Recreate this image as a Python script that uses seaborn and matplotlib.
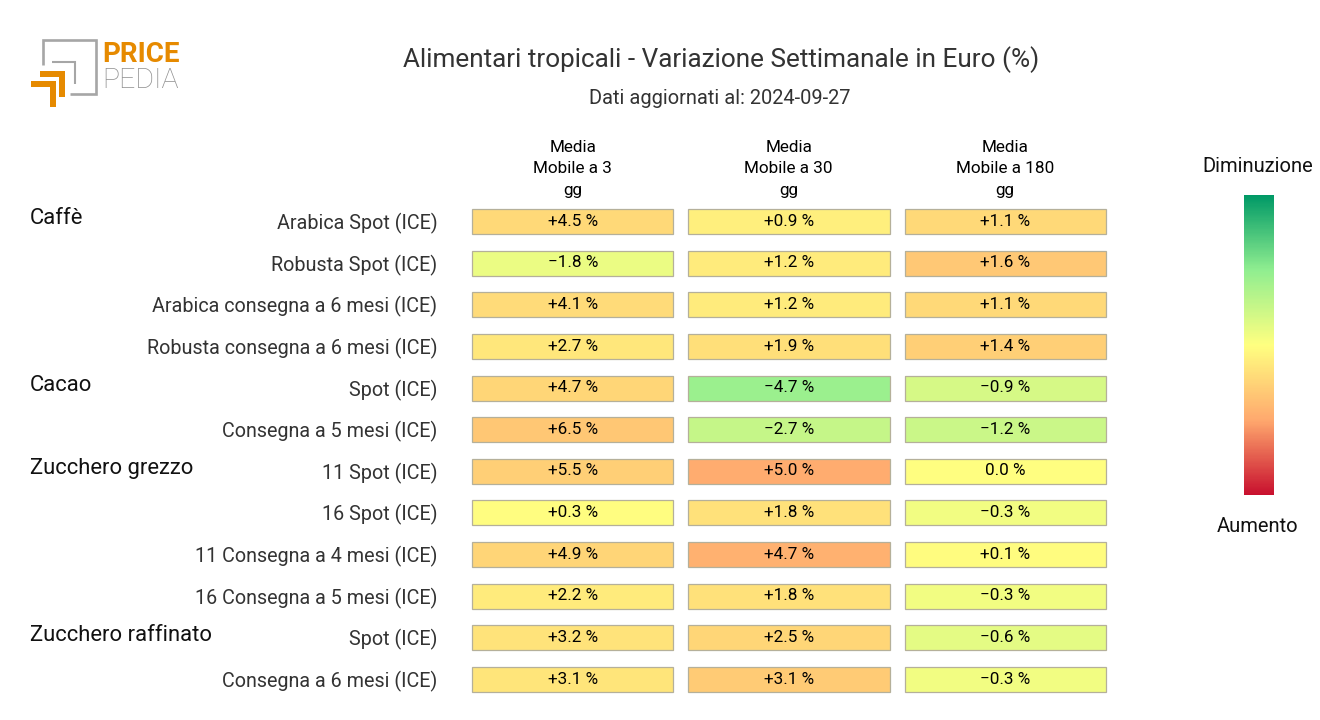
"""
Alimentari tropicali - heatmap variazione settimanale
"""

import matplotlib
matplotlib.use("Agg")
import matplotlib.pyplot as plt
from matplotlib.colors import LinearSegmentedColormap, Normalize
from matplotlib.cm import ScalarMappable
from matplotlib.patches import Rectangle, Polygon
import numpy as np
import pandas as pd
import seaborn as sns

TITLE = "Alimentari tropicali - Variazione Settimanale in Euro (%)"
SUBTITLE = "Dati aggiornati al: 2024-09-27"

row_labels = [
    "Arabica Spot (ICE)", "Robusta Spot (ICE)",
    "Arabica consegna a 6 mesi (ICE)", "Robusta consegna a 6 mesi (ICE)",
    "Spot (ICE)", "Consegna a 5 mesi (ICE)",
    "11 Spot (ICE)", "16 Spot (ICE)",
    "11 Consegna a 4 mesi (ICE)", "16 Consegna a 5 mesi (ICE)",
    "Spot (ICE)", "Consegna a 6 mesi (ICE)",
]
group_labels = ["Caffè", "Cacao", "Zucchero grezzo", "Zucchero raffinato"]
group_rows = [0, 4, 6, 10]
col_labels = ["Media\nMobile a 3\ngg", "Media\nMobile a 30\ngg", "Media\nMobile a 180\ngg"]

media_3 = [4.5, -1.8, 4.1, 2.7, 4.7, 6.5, 5.5, 0.3, 4.9, 2.2, 3.2, 3.1]
media_30 = [0.9, 1.2, 1.2, 1.9, -4.7, -2.7, 5.0, 1.8, 4.7, 1.8, 2.5, 3.1]
media_180 = [1.1, 1.6, 1.1, 1.4, -0.9, -1.2, 0.0, -0.3, 0.1, -0.3, -0.6, -0.3]
col_values = [media_3, media_30, media_180]
col_limits = [20, 10.4, 5]

cmap = LinearSegmentedColormap.from_list(
    "variazione",
    ["#009966", "#90EE90", "#FFFF80", "#FFA96E", "#C8102E"],
)

W, H = 1320, 720
COL_LEFT = [472, 688, 904.5]
COL_W = 201.5
ROW_TOP = 209
ROW_H = 25
ROW_PITCH = 41.64
GAP = ROW_PITCH - ROW_H

sns.set_theme(style="white")
plt.rcParams["font.family"] = ["Roboto", "DejaVu Sans"]


def fx(px):
    return px / W


def fy(px):
    return 1 - px / H


def fmt_value(v):
    if v == 0:
        return "0.0 %"
    return f"{v:+.1f} %".replace("-", "\u2212")


def draw_logo(fig):
    ax = fig.add_axes([0, 0, 1, 1], zorder=5)
    ax.set_xlim(0, W)
    ax.set_ylim(H, 0)
    ax.axis("off")
    grey = "#a6a6a6"
    orange = "#e68a00"
    ax.plot([43, 43, 96, 96, 70], [65, 40, 40, 94, 94], color=grey, lw=1.9, solid_capstyle="butt", solid_joinstyle="miter")
    ax.plot([52, 75, 75], [62, 62, 84], color=grey, lw=1.5, solid_capstyle="butt", solid_joinstyle="miter")
    ax.add_patch(Polygon([[40, 71], [65, 71], [65, 97], [59, 97], [59, 77], [40, 77]], color=orange, lw=0))
    ax.add_patch(Polygon([[31, 81], [56, 81], [56, 107], [50, 107], [50, 87], [31, 87]], color=orange, lw=0))
    ax.text(102, 54, "PRICE", color=orange, fontsize=20, fontweight="bold", va="center", ha="left")
    ax.text(102, 80, "PEDIA", color="#8f8f8f", fontsize=20.5, fontweight="light", va="center", ha="left")


def main():
    fig = plt.figure(figsize=(W / 100, H / 100), dpi=100, facecolor="white")
    n_rows = len(row_labels)
    top = ROW_TOP - GAP / 2
    height = ROW_PITCH * n_rows

    for c, values in enumerate(col_values):
        left = COL_LEFT[c] - GAP / 2
        width = COL_W + GAP
        ax = fig.add_axes([fx(left), fy(top + height), width / W, height / H])
        frame = pd.DataFrame({col_labels[c]: values})
        annot = np.array([[fmt_value(v)] for v in values])
        sns.heatmap(
            frame, ax=ax, cmap=cmap, vmin=-col_limits[c], vmax=col_limits[c],
            cbar=False, annot=annot, fmt="",
            annot_kws={"color": "black", "fontsize": 12.3},
            linewidths=GAP * 0.72, linecolor="white",
            xticklabels=True, yticklabels=False,
        )
        ax.xaxis.tick_top()
        ax.tick_params(axis="x", length=0, pad=2, labelsize=12.3, labelrotation=0, colors="black")
        for t in ax.get_xticklabels():
            t.set_linespacing(1.55)
            t.set_ha("center")
        if c == 0:
            ax.set_yticks(np.arange(n_rows) + 0.49, labels=row_labels)
            ax.tick_params(axis="y", length=0, pad=19, labelsize=14.2, labelrotation=0, colors="#333333")
        for t in ax.texts:
            t.set_y(t.get_position()[1] - 0.01)

        # bordo grigio delle celle
        mx = (GAP / 2) / width
        my = (GAP / 2) / ROW_PITCH
        for i in range(n_rows):
            ax.add_patch(Rectangle((mx, i + my), 1 - 2 * mx, 1 - 2 * my, fill=False,
                                   edgecolor="#b5b09a", lw=0.9, clip_on=False))

    for name, row in zip(group_labels, group_rows):
        fig.text(fx(30), fy(ROW_TOP + 10 + row * ROW_PITCH), name, fontsize=15.8,
                 color="#111111", va="center", ha="left")

    fig.text(fx(721), fy(60), TITLE, fontsize=18.8, color="#333333", ha="center", va="center")
    fig.text(fx(720), fy(98), SUBTITLE, fontsize=14.4, color="#333333", ha="center", va="center")

    # scala colori
    cax = fig.add_axes([fx(1244), fy(495), 30 / W, 300 / H])
    cb = fig.colorbar(ScalarMappable(norm=Normalize(-1, 1), cmap=cmap), cax=cax)
    cb.outline.set_visible(False)
    cb.set_ticks([])
    cax.invert_yaxis()
    fig.text(fx(1258), fy(167), "Diminuzione", fontsize=14.5, color="#111111", ha="center", va="center")
    fig.text(fx(1258), fy(527), "Aumento", fontsize=14.5, color="#111111", ha="center", va="center")

    draw_logo(fig)
    fig.savefig("out.png", dpi=100)
    plt.close(fig)


if __name__ == "__main__":
    main()
